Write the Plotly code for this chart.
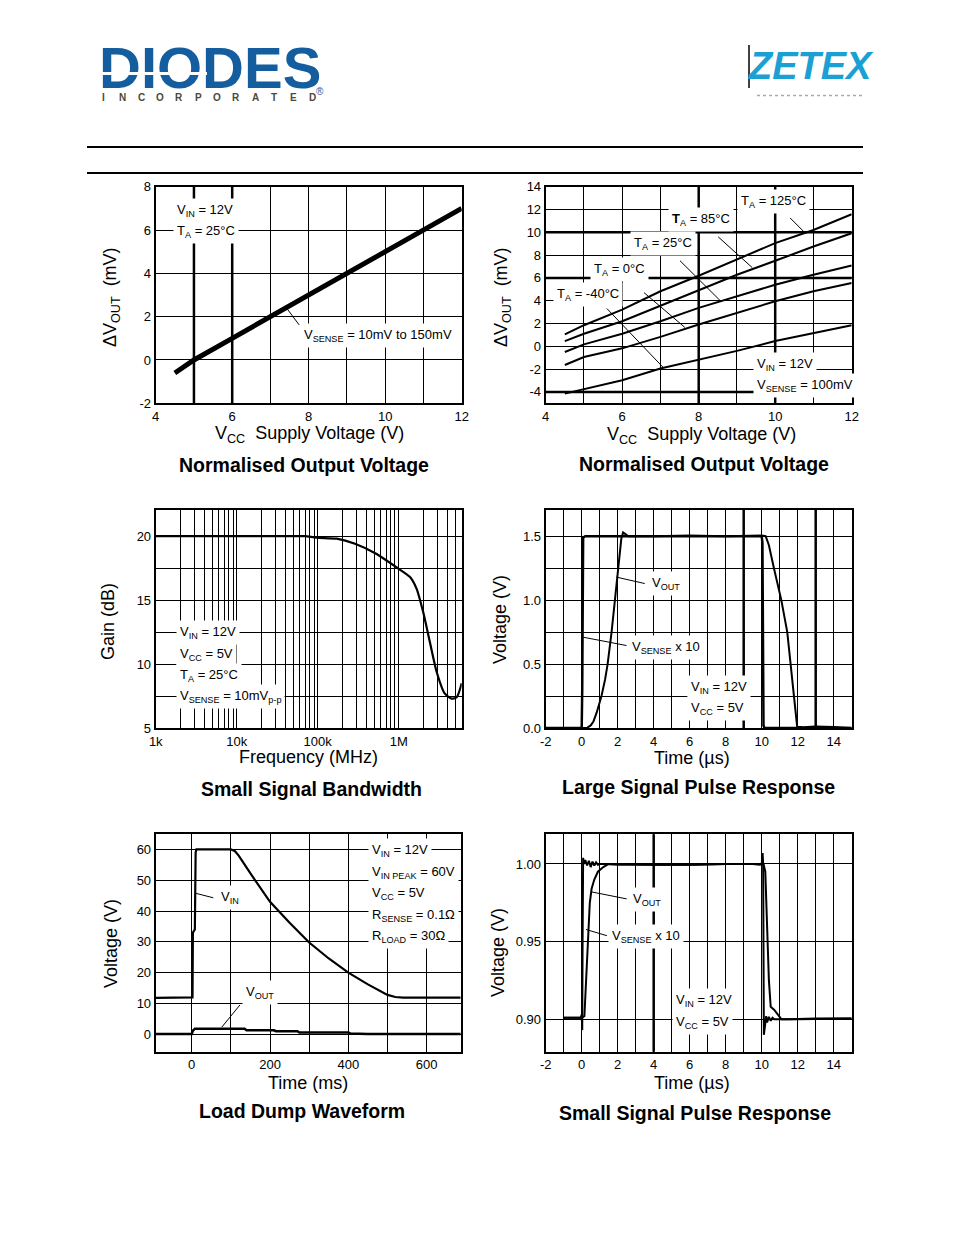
import math
import plotly.graph_objects as go

W, H = 954, 1235
FONT = "Liberation Sans, Arial, sans-serif"

def px(x):
    return x / W

def py(y):
    return 1 - y / H

# ---------------- DATA ----------------
# Panel 1: Normalised output voltage (VSENSE 10mV..150mV)
p1_vcc = [4.5, 5, 6, 7, 8, 9, 10, 11, 12]
p1_dvout = [-0.6, 0.0, 1.0, 2.0, 3.05, 4.05, 5.05, 6.0, 7.0]

# Panel 2: Normalised output voltage vs temperature
p2_vcc = [4.5, 5, 6, 7, 8, 9, 10, 11, 12]
p2_t125 = [1.04, 1.85, 3.22, 4.83, 6.19, 7.59, 9.05, 10.2, 11.58]
p2_t85 = [0.46, 1.1, 2.2, 3.57, 4.96, 6.28, 7.5, 8.75, 9.92]
p2_t25 = [-0.5, 0.17, 1.1, 2.2, 3.37, 4.39, 5.4, 6.28, 7.09]
p2_t0 = [-1.64, -0.94, -0.18, 0.83, 1.91, 2.93, 3.95, 4.83, 5.55]
p2_tm40 = [-4.15, -3.78, -2.98, -1.95, -1.2, -0.4, 0.46, 1.15, 1.85]

# Panel 3: Small signal bandwidth
p3_freq = [1e3, 2e4, 5e4, 7e4, 9.7e4, 1.72e5, 2.89e5, 5.34e5, 9.44e5, 1.38e6,
           1.66e6, 2.0e6, 2.43e6, 2.94e6, 3.7e6, 4.5e6, 5.2e6, 6.0e6]
p3_gain = [20, 20, 20, 20, 19.87, 19.8, 19.4, 18.6, 17.55, 16.8,
           15.9, 14.1, 11.7, 9.4, 7.7, 7.3, 7.4, 8.5]

# Panel 4: Large signal pulse response
p4_sense_t = [-2, 0.0, 0.03, 0.08, 0.2, 2, 5, 8, 9.8, 10.0, 10.04, 10.1, 10.15, 12, 15]
p4_sense_v = [0, 0, 0.3, 1.49, 1.5, 1.5, 1.5, 1.5, 1.505, 1.5, 1.45, 0.02, 0, 0, 0]
p4_out_t = [-2, 0.28, 0.5, 0.65, 0.83, 1.0, 1.1, 1.3, 1.44, 1.66, 1.84, 2.03, 2.2, 2.3, 2.4,
            2.6, 4, 6, 8, 9.5, 10.0, 10.22, 10.4, 10.68, 11.09, 11.42, 11.6, 11.79, 11.97,
            12.3, 13, 14, 15]
p4_out_v = [0, 0, 0.02, 0.05, 0.12, 0.2, 0.25, 0.38, 0.5, 0.75, 1.0, 1.25, 1.48, 1.53, 1.52,
            1.5, 1.5, 1.505, 1.5, 1.505, 1.505, 1.5, 1.43, 1.25, 1.0, 0.75, 0.5, 0.25, 0.01,
            0.005, 0.012, 0.008, 0.0]

# Panel 5: Load dump waveform
p5_vin_t = [-92, 0, 2, 3, 8, 10, 12, 100, 110, 120, 150, 200, 250, 300, 350, 400, 450,
            500, 520, 540, 687]
p5_vin_v = [11.8, 11.8, 12, 33, 34, 59, 60, 60, 59.5, 58, 52.2, 43, 36.2, 29.8, 24.6, 20.0,
            16.2, 12.8, 12.1, 11.9, 11.9]
p5_vout_t = [-92, 0, 3, 8, 135, 140, 210, 215, 270, 275, 400, 405, 450, 687]
p5_vout_v = [0.1, 0.1, 1.2, 1.8, 1.8, 1.3, 1.3, 1.0, 1.0, 0.6, 0.6, 0.3, 0.1, 0.1]

# Panel 6: Small signal pulse response
p6_sense_t = [-1.0, -0.05, 0.0, 0.03, 0.05, 0.08, 0.12, 0.2, 0.3, 0.4, 0.5, 0.6, 0.7, 0.8,
              0.9, 1.0, 1.3, 2, 4, 6, 8, 9.5, 9.9, 10.0, 10.05, 10.08, 10.12, 10.18, 10.25,
              10.3, 10.4, 10.5, 10.6, 10.7, 10.8, 10.9, 11.0, 11.5, 13, 15]
p6_sense_v = [0.901, 0.901, 0.903, 0.893, 0.95, 1.004, 1.0, 1.0025, 0.999, 1.002, 0.998,
              1.0015, 0.999, 1.001, 0.9995, 1.0, 1.0, 0.9995, 0.9995, 0.9995, 1.0, 1.0,
              0.9995, 1.0, 1.007, 1.0, 0.89, 0.897, 0.902, 0.898, 0.9015, 0.899, 0.901,
              0.9, 0.9, 0.9, 0.9, 0.9, 0.9005, 0.9005]
p6_out_t = [-1.0, 0.0, 0.15, 0.25, 0.35, 0.45, 0.55, 0.7, 0.9, 1.2, 1.5, 2.5, 4, 6, 8,
            9.9, 10.1, 10.2, 10.3, 10.4, 10.5, 10.7, 10.9, 11.1, 12, 15]
p6_out_v = [0.901, 0.901, 0.902, 0.93, 0.955, 0.975, 0.984, 0.99, 0.995, 0.998, 1.0, 1.0,
            0.9995, 0.9995, 1.0, 1.0, 1.0, 0.995, 0.96, 0.925, 0.908, 0.906, 0.903, 0.9,
            0.9, 0.9005]

# Tick labels
p1_yticks = [-2, 0, 2, 4, 6, 8]
p2_yticks = [-4, -2, 0, 2, 4, 6, 8, 10, 12, 14]
pulse_xticks = [-2, 0, 2, 4, 6, 8, 10, 12, 14]
p3_tickvals = [k * 10 ** d for d in range(3, 7) for k in range(1, 10) if k * 10 ** d <= 6e6]
p3_ticktext = [{1e3: "1k", 1e4: "10k", 1e5: "100k", 1e6: "1M"}.get(v, "") for v in p3_tickvals]

def hyph(vals):
    return [str(v) for v in vals]

# ---------------- FIGURE ----------------
fig = go.Figure()
LINE = dict(color="black", width=2)

fig.add_trace(go.Scatter(x=p1_vcc, y=p1_dvout, mode="lines", line=dict(color="black", width=5),
                         xaxis="x", yaxis="y"))
for ser in [p2_t125, p2_t85, p2_t25, p2_t0, p2_tm40]:
    fig.add_trace(go.Scatter(x=p2_vcc, y=ser, mode="lines", line=LINE, xaxis="x2", yaxis="y2"))
fig.add_trace(go.Scatter(x=p3_freq, y=p3_gain, mode="lines", line=dict(color="black", width=2.2,
                         shape="spline", smoothing=0.6), xaxis="x3", yaxis="y3"))
fig.add_trace(go.Scatter(x=p4_sense_t, y=p4_sense_v, mode="lines", line=dict(color="black", width=2.5),
                         xaxis="x4", yaxis="y4"))
fig.add_trace(go.Scatter(x=p4_out_t, y=p4_out_v, mode="lines", line=LINE, xaxis="x4", yaxis="y4"))
fig.add_trace(go.Scatter(x=p5_vin_t, y=p5_vin_v, mode="lines", line=dict(color="black", width=2.2),
                         xaxis="x5", yaxis="y5"))
fig.add_trace(go.Scatter(x=p5_vout_t, y=p5_vout_v, mode="lines", line=dict(color="black", width=2.5),
                         xaxis="x5", yaxis="y5"))
fig.add_trace(go.Scatter(x=p6_sense_t, y=p6_sense_v, mode="lines", line=LINE, xaxis="x6", yaxis="y6"))
fig.add_trace(go.Scatter(x=p6_out_t, y=p6_out_v, mode="lines", line=LINE, xaxis="x6", yaxis="y6"))

TICKFONT = dict(family=FONT, size=13, color="black")

def ax(dom, rng, **kw):
    d = dict(domain=dom, range=rng, showline=True, linecolor="black", linewidth=2, mirror=True,
             showgrid=True, gridcolor="black", gridwidth=1, zeroline=False, ticks="",
             tickfont=TICKFONT, fixedrange=True, automargin=False)
    d.update(kw)
    return d

def minor(step):
    return dict(dtick=step, showgrid=True, gridcolor="black", gridwidth=1, ticks="")

XL = [px(155.7), px(461.7)]
XR = [px(545.7), px(851.7)]
Y1 = [py(403.3), py(186.7)]
Y2 = [py(728.0), py(509.5)]
Y3 = [py(1051.7), py(834.3)]

fig.update_layout(
    xaxis=ax(XL, [4, 12], dtick=2, minor=minor(1), anchor="y"),
    yaxis=ax(Y1, [-2, 8], tickvals=p1_yticks, ticktext=hyph(p1_yticks), anchor="x"),
    xaxis2=ax(XR, [4, 12], dtick=2, minor=minor(1), anchor="y2"),
    yaxis2=ax(Y1, [-5, 14], tickvals=p2_yticks, ticktext=hyph(p2_yticks), anchor="x2"),
    xaxis3=ax(XL, [2.9995, 6.778], type="log", tickvals=p3_tickvals, ticktext=p3_ticktext, anchor="y3"),
    yaxis3=ax(Y2, [5, 22.08], dtick=5, minor=minor(2.5), anchor="x3"),
    xaxis4=ax(XR, [-2, 15], tickvals=pulse_xticks, ticktext=hyph(pulse_xticks), minor=minor(1), anchor="y4"),
    yaxis4=ax(Y2, [0, 1.709], dtick=0.5, tickformat=".1f", minor=minor(0.25), anchor="x4"),
    xaxis5=ax([px(155.7), px(460.7)], [-92, 687], dtick=200, minor=minor(100), anchor="y5"),
    yaxis5=ax(Y3, [-5.64, 64.9], dtick=10, anchor="x5"),
    xaxis6=ax(XR, [-2, 15], tickvals=pulse_xticks, ticktext=hyph(pulse_xticks), minor=minor(1), anchor="y6"),
    yaxis6=ax(Y3, [0.8791, 1.0191], tick0=0.9, dtick=0.05, tickformat=".2f", anchor="x6"),
)

shapes = []
annotations = []

def thick_v(axn, val, w=2.5):
    shapes.append(dict(type="line", xref="x" + axn, yref="y" + axn + " domain", x0=val, x1=val,
                       y0=0, y1=1, line=dict(color="black", width=w), layer="below"))

def thick_h(axn, val, w=2.5):
    shapes.append(dict(type="line", yref="y" + axn, xref="x" + axn + " domain", y0=val, y1=val,
                       x0=0, x1=1, line=dict(color="black", width=w), layer="below"))

# scanned datasheet: some grid lines appear heavier
thick_v("", 5); thick_v("", 6)
thick_h("2", 10); thick_h("2", 6); thick_h("2", -4); thick_v("2", 8); thick_v("2", 10)
for v in [3e3, 4e4, 1e5, 3e5, 4e6]:
    thick_v("3", math.log10(v))
thick_v("4", 9); thick_v("4", 13)
thick_v("6", 4)

def leader(axn, x0, y0, x1, y1):
    shapes.append(dict(type="line", xref="x" + axn, yref="y" + axn, x0=x0, y0=y0, x1=x1, y1=y1,
                       line=dict(color="black", width=1)))

def dlabel(axn, x, y, text, size=13, bg="white"):
    annotations.append(dict(xref="x" + axn, yref="y" + axn, x=x, y=y, text=text, showarrow=False,
                            xanchor="left", yanchor="middle", bgcolor=bg, borderpad=3,
                            font=dict(family=FONT, size=size, color="black")))

def ptext(x, y, text, size=18, angle=0, bold=False, color="black", xanchor="center", family=FONT):
    annotations.append(dict(xref="paper", yref="paper", x=px(x), y=py(y),
                            text=("<b>%s</b>" % text) if bold else text, showarrow=False,
                            xanchor=xanchor, yanchor="middle", textangle=angle,
                            font=dict(family=family, size=size, color=color)))

# Panel 1 labels
dlabel("", 4.45, 6.92, "V<sub>IN</sub> = 12V")
dlabel("", 4.45, 5.95, "T<sub>A</sub> = 25°C")
dlabel("", 7.77, 1.15, "V<sub>SENSE</sub> = 10mV to 150mV")
leader("", 7.42, 2.40, 7.75, 1.62)

# Panel 2 labels
dlabel("2", 9.0, 12.66, "T<sub>A</sub> = 125°C")
dlabel("2", 7.2, 11.09, "<b>T</b><sub>A</sub> = 85°C")
dlabel("2", 6.2, 9.0, "T<sub>A</sub> = 25°C")
dlabel("2", 5.16, 6.72, "T<sub>A</sub> = 0°C")
dlabel("2", 4.19, 4.54, "T<sub>A</sub> = -40°C")
dlabel("2", 9.42, -1.58, "V<sub>IN</sub> = 12V")
dlabel("2", 9.42, -3.42, "V<sub>SENSE</sub> = 100mV")
leader("2", 10.39, 11.26, 10.78, 9.95)
leader("2", 8.51, 9.60, 9.40, 6.90)
leader("2", 7.51, 7.51, 8.56, 4.01)
leader("2", 6.57, 4.71, 7.64, 1.65)
leader("2", 5.60, 3.31, 7.07, -1.85)

# Panel 3 labels
dlabel("3", 3.25, 12.43, "V<sub>IN</sub> = 12V")
dlabel("3", 3.25, 10.72, "V<sub>CC</sub> = 5V")
dlabel("3", 3.25, 9.08, "T<sub>A</sub> = 25°C")
dlabel("3", 3.25, 7.44, "V<sub>SENSE</sub> = 10mV<sub>p-p</sub>")

# Panel 4 labels
dlabel("4", 3.67, 1.13, "V<sub>OUT</sub>")
dlabel("4", 2.56, 0.63, "V<sub>SENSE</sub> x 10")
dlabel("4", 5.87, 0.316, "V<sub>IN</sub> = 12V")
dlabel("4", 5.87, 0.15, "V<sub>CC</sub> = 5V")
leader("4", 1.93, 1.18, 3.50, 1.13)
leader("4", 0.09, 0.71, 2.49, 0.645)

# Panel 5 labels
dlabel("5", 64.6, 44.5, "V<sub>IN</sub>")
dlabel("5", 128.4, 13.7, "V<sub>OUT</sub>")
leader("5", 9, 45.8, 55, 44.3)
leader("5", 76.6, 2.3, 123, 9.5)
for yy, tt in zip([59.8, 52.6, 45.8, 38.7, 31.6],
                  ["V<sub>IN</sub> = 12V", "V<sub>IN PEAK</sub> = 60V", "V<sub>CC</sub> = 5V",
                   "R<sub>SENSE</sub> = 0.1Ω", "R<sub>LOAD</sub> = 30Ω"]):
    dlabel("5", 450, yy, tt)

# Panel 6 labels
dlabel("6", 2.6, 0.9768, "V<sub>OUT</sub>")
dlabel("6", 1.45, 0.9532, "V<sub>SENSE</sub> x 10")
dlabel("6", 5.04, 0.912, "V<sub>IN</sub> = 12V")
dlabel("6", 5.04, 0.898, "V<sub>CC</sub> = 5V")
leader("6", 0.55, 0.982, 2.5, 0.9775)
leader("6", 0.24, 0.9578, 1.40, 0.9538)

# Axis titles
ptext(111, 297, "ΔV<sub>OUT</sub>  (mV)", angle=-90)
ptext(309, 434, "V<sub>CC</sub>  Supply Voltage (V)")
ptext(502, 297, "ΔV<sub>OUT</sub>  (mV)", angle=-90)
ptext(701, 435, "V<sub>CC</sub>  Supply Voltage (V)")
ptext(108, 622, "Gain (dB)", angle=-90)
ptext(308, 757, "Frequency (MHz)")
ptext(500, 620, "Voltage (V)", angle=-90)
ptext(692, 758, "Time (µs)")
ptext(111, 944, "Voltage (V)", angle=-90)
ptext(308, 1083, "Time (ms)")
ptext(498, 953, "Voltage (V)", angle=-90)
ptext(692, 1083, "Time (µs)")

# Chart captions
CAP = 19.5
ptext(304, 465, "Normalised Output Voltage", size=CAP, bold=True)
ptext(704, 464, "Normalised Output Voltage", size=CAP, bold=True)
ptext(311, 789, "Small Signal Bandwidth", size=CAP, bold=True)
ptext(698, 787, "Large Signal Pulse Response", size=CAP, bold=True)
ptext(302, 1111, "Load Dump Waveform", size=CAP, bold=True)
ptext(695, 1113, "Small Signal Pulse Response", size=CAP, bold=True)

# Header: logos and rules
ptext(97, 67, "DIODES", size=58, bold=True, color="#145ea0", xanchor="left")
stripe_y = 73
for i, ch in enumerate("INCORPORATED"):
    ptext(103 + i * 19, 97, ch, size=10, bold=True, color="#4a4a3a")
ptext(320, 91, "®", size=10, color="#145ea0")
ptext(811, 66, "<i>ZETEX</i>", size=38, bold=True, color="#1ba0d4")
# white stripe through the DIODES letters (drawn after the text so it lies on top)
annotations.append(dict(xref="paper", yref="paper", x=px(207), y=py(stripe_y),
                        xanchor="right", yanchor="middle", text="", showarrow=False,
                        width=108, height=2.5, bgcolor="white", borderpad=0, borderwidth=0))

shapes += [
    dict(type="line", xref="paper", yref="paper", x0=px(87), x1=px(863), y0=py(147), y1=py(147),
         line=dict(color="black", width=2)),
    dict(type="line", xref="paper", yref="paper", x0=px(87), x1=px(863), y0=py(173), y1=py(173),
         line=dict(color="black", width=2)),
    dict(type="line", xref="paper", yref="paper", x0=px(749), x1=px(749), y0=py(45), y1=py(88),
         line=dict(color="black", width=1.5)),
    dict(type="line", xref="paper", yref="paper", x0=px(757), x1=px(862), y0=py(95.5), y1=py(95.5),
         line=dict(color="#aaaaaa", width=1.5, dash="dot")),
]

fig.update_layout(
    width=W, height=H, autosize=False,
    margin=dict(l=0, r=0, t=0, b=0, pad=0, autoexpand=False),
    paper_bgcolor="white", plot_bgcolor="white", showlegend=False,
    shapes=shapes, annotations=annotations,
    font=dict(family=FONT, color="black"),
)

fig.write_html("out.html", config={"displayModeBar": False, "responsive": False},
               post_script="document.body.style.margin='0';document.body.style.padding='0';")
